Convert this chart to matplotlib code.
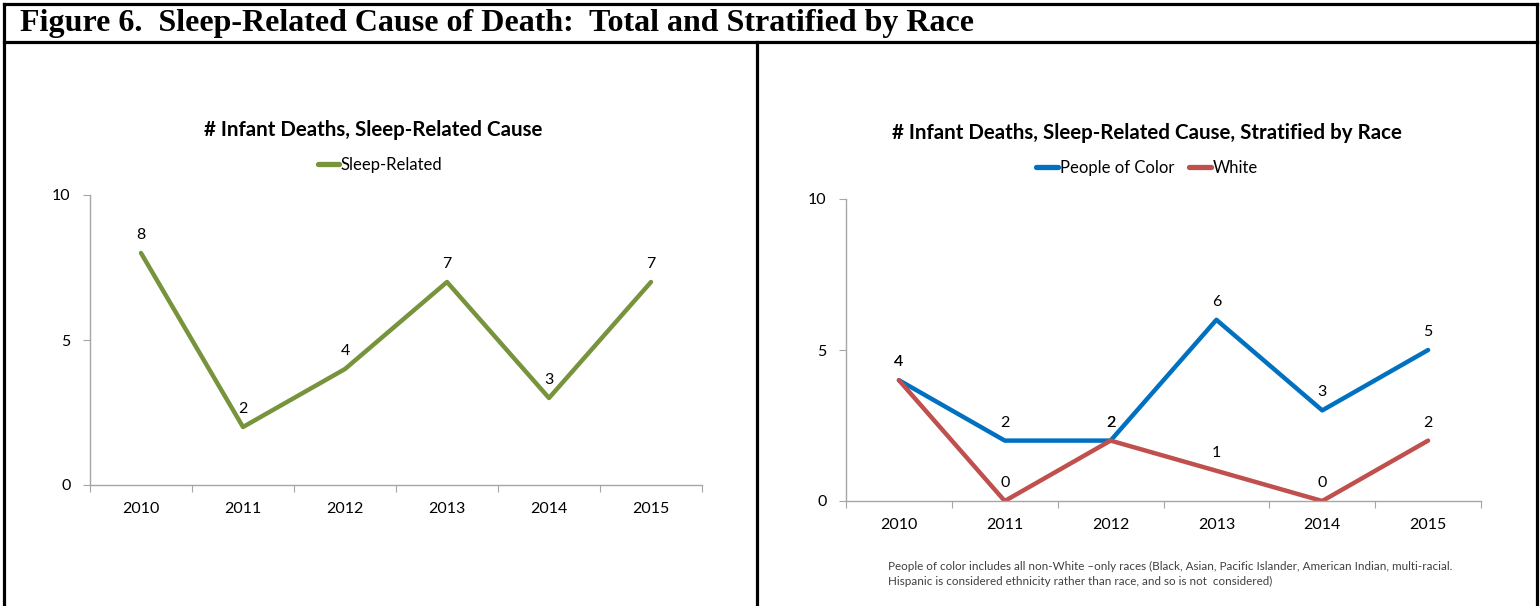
import matplotlib
matplotlib.use("Agg")
import matplotlib.pyplot as plt
from matplotlib.lines import Line2D

years = ["2010", "2011", "2012", "2013", "2014", "2015"]
sleep_related = [8, 2, 4, 7, 3, 7]
people_of_color = [4, 2, 2, 6, 3, 5]
white = [4, 0, 2, 1, 0, 2]
y_ticks = [0, 5, 10]

GREEN = "#77933C"
BLUE = "#0070C0"
RED = "#C0504D"
AXIS = "#A6A6A6"
FONT = ["Lato", "DejaVu Sans"]
TICK_FS = 11.5

W, H = 1540, 606
fig = plt.figure(figsize=(W / 100, H / 100), dpi=100)

# overlay for borders / header
ov = fig.add_axes([0, 0, 1, 1])
ov.set_xlim(0, W)
ov.set_ylim(H, 0)
ov.axis("off")
lw = 2.3
ov.plot([4, 1537], [4, 4], color="black", lw=lw, solid_capstyle="projecting")
ov.plot([4, 1537], [42, 42], color="black", lw=lw)
ov.plot([4, 4], [4, H], color="black", lw=lw)
ov.plot([1537, 1537], [4, H], color="black", lw=lw)
ov.plot([757, 757], [42, H], color="black", lw=lw)
ov.text(20, 24, "Figure 6.  Sleep-Related Cause of Death:  Total and Stratified by Race",
        fontfamily="Liberation Serif", fontweight="bold", fontsize=23,
        va="center", ha="left")


def px_axes(x0, y0, x1, y1):
    return fig.add_axes([x0 / W, (H - y1) / H, (x1 - x0) / W, (y1 - y0) / H])


def style(ax):
    x = list(range(len(years)))
    ax.set_xlim(-0.5, len(years) - 0.5)
    ax.set_ylim(0, 10)
    for s in ["top", "right"]:
        ax.spines[s].set_visible(False)
    for s in ["left", "bottom"]:
        ax.spines[s].set_color(AXIS)
        ax.spines[s].set_linewidth(1.0)
    ax.set_xticks([i - 0.5 for i in range(len(years) + 1)])
    ax.set_xticklabels([])
    ax.set_xticks(x, minor=True)
    ax.set_xticklabels(years, minor=True, fontfamily=FONT, fontsize=TICK_FS)
    ax.tick_params(axis="x", which="major", length=5, color=AXIS, direction="out")
    ax.tick_params(axis="x", which="minor", length=0, pad=12)
    ax.set_yticks(y_ticks)
    ax.set_yticklabels([str(v) for v in y_ticks], fontfamily=FONT, fontsize=TICK_FS)
    ax.tick_params(axis="y", length=5, color=AXIS, direction="out", pad=9)
    ax.patch.set_alpha(0)


def labels(ax, vals):
    for i, v in enumerate(vals):
        ax.annotate(str(v), (i, v), xytext=(0, 13), textcoords="offset points",
                    ha="center", va="center", fontfamily=FONT, fontsize=TICK_FS)


# Left chart
ax1 = px_axes(90, 195, 702, 485)
style(ax1)
ax1.plot(range(len(years)), sleep_related, color=GREEN, lw=3.2, solid_capstyle="round")
labels(ax1, sleep_related)
fig.text(373 / W, 1 - 130 / H, "# Infant Deaths, Sleep-Related Cause", ha="center", va="center",
         fontfamily=FONT, fontweight="bold", fontsize=14.8)
fig.legend(handles=[Line2D([], [], color=GREEN, lw=3.8, solid_capstyle="round")],
           labels=["Sleep-Related"], loc="center", bbox_to_anchor=(380 / W, 1 - 165 / H),
           frameon=False, prop={"family": FONT, "size": 12},
           handlelength=1.3, handletextpad=0.1)

# Right chart
ax2 = px_axes(846, 199, 1481, 501)
style(ax2)
ax2.plot(range(len(years)), people_of_color, color=BLUE, lw=3.2, solid_capstyle="round")
ax2.plot(range(len(years)), white, color=RED, lw=3.2, solid_capstyle="round")
labels(ax2, people_of_color)
labels(ax2, white)
fig.text(1147 / W, 1 - 133 / H, "# Infant Deaths, Sleep-Related Cause, Stratified by Race",
         ha="center", va="center", fontfamily=FONT, fontweight="bold", fontsize=14.8)
fig.legend(handles=[Line2D([], [], color=BLUE, lw=3.8, solid_capstyle="round"),
                    Line2D([], [], color=RED, lw=3.8, solid_capstyle="round")],
           labels=["People of Color", "White"], loc="center", ncol=2,
           bbox_to_anchor=(1147 / W, 1 - 168 / H), frameon=False,
           prop={"family": FONT, "size": 12}, handlelength=1.3, handletextpad=0.1,
           columnspacing=0.9)

fig.text(888 / W, 1 - 566 / H,
         "People of color includes all non-White \u2013only races (Black, Asian, Pacific Islander, American Indian, multi-racial.",
         ha="left", va="center", fontfamily=FONT, fontsize=8.4, color="#404040")
fig.text(888 / W, 1 - 581 / H,
         "Hispanic is considered ethnicity rather than race, and so is not  considered)",
         ha="left", va="center", fontfamily=FONT, fontsize=8.4, color="#404040")

fig.savefig("out.png", dpi=100)
